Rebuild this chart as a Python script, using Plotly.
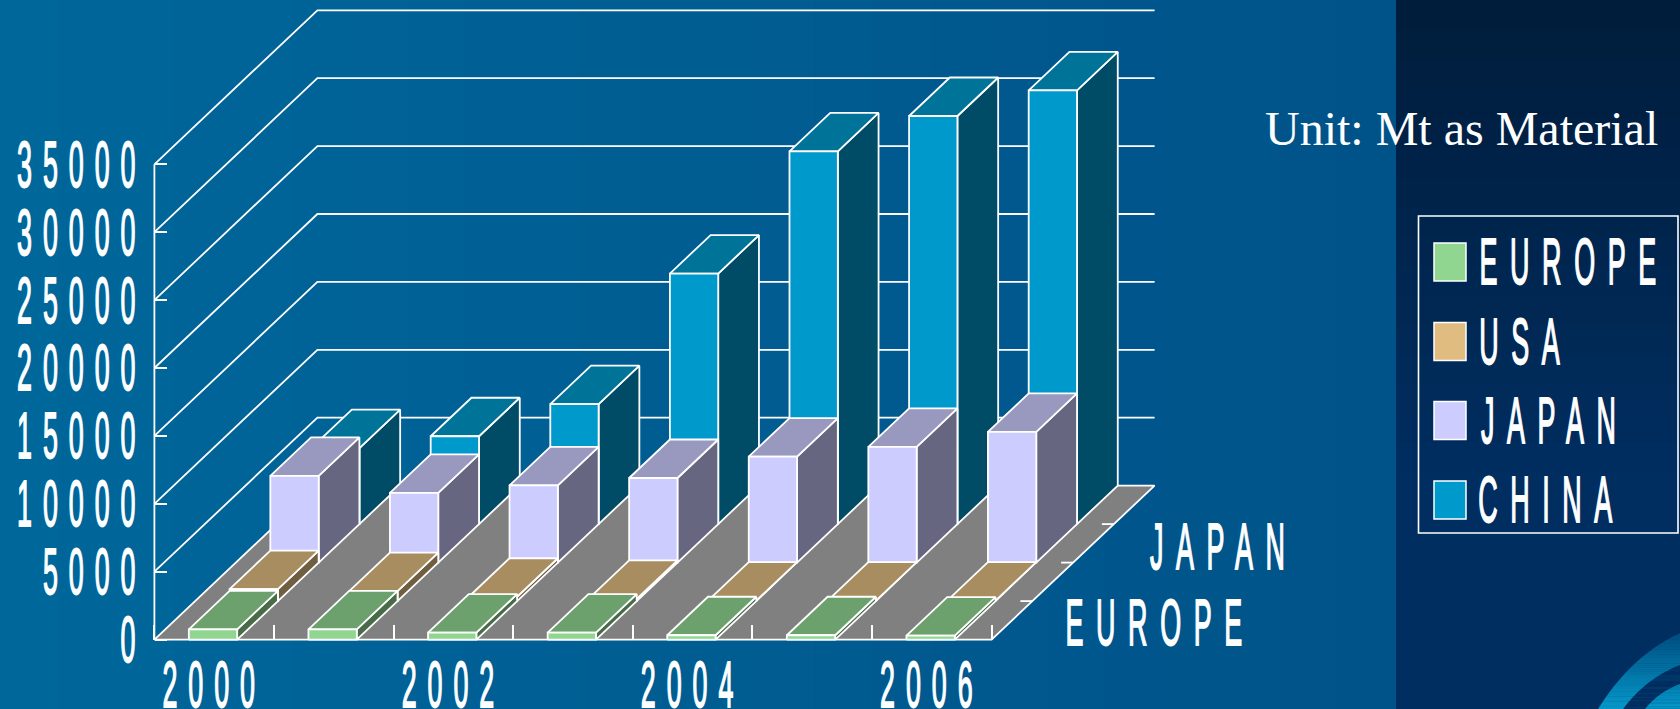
import plotly.graph_objects as go

years = [2000, 2001, 2002, 2003, 2004, 2005, 2006]
year_labels = ["2000", "2002", "2004", "2006"]
year_label_idx = [0, 2, 4, 6]
europe = [760, 760, 515, 515, 320, 320, 300]
usa = [880, 730, 320, 160, 40, 40, 40]
japan = [6390, 5130, 5680, 6230, 7810, 8520, 9620]
china = [5600, 6470, 8830, 18450, 27440, 30050, 31940]
series_names = ["EUROPE", "USA", "JAPAN", "CHINA"]
series_values = [europe, usa, japan, china]
series_colors = [(144, 214, 144), (224, 188, 128), (204, 204, 255), (0, 153, 204)]
y_ticks = [0, 5000, 10000, 15000, 20000, 25000, 30000, 35000]

W, H = 1680, 709
X0, Y0 = 154.4, 639.6          # pixel of category 0 / value 0
PX_CAT, PX_VAL = 119.6, 0.01358
DX, DY = 163 / PX_CAT, 154 / PX_VAL  # oblique depth vector in axis units
BAR_L, BAR_R = 0.288, 0.692
WHITE = "#ffffff"
LW = 1.8
SANS = "Liberation Sans"
FONT_PX = 64


def proj(c, v, d):
    return c + d * DX, v + d * DY


def shade(rgb, k):
    return "rgb(%d,%d,%d)" % tuple(round(a * k) for a in rgb)


def mix(a, b, t):
    return "rgb(%d,%d,%d)" % tuple(round(p + (q - p) * t) for p, q in zip(a, b))


def polys(items):
    xs, ys = [], []
    for poly in items:
        for c, v, d in poly:
            x, y = proj(c, v, d)
            xs.append(x)
            ys.append(y)
        x, y = proj(*poly[0])
        xs.append(x)
        ys.append(y)
        xs.append(None)
        ys.append(None)
    return xs, ys


fig = go.Figure()


def add_poly(items, fill, name):
    xs, ys = polys(items)
    fig.add_trace(go.Scatter(x=xs, y=ys, mode="lines", fill="toself", fillcolor=fill,
                             line=dict(color=WHITE, width=LW), name=name,
                             showlegend=False, hoverinfo="skip"))


# walls
n = len(years)
wall_x, wall_y = [], []
for v in y_ticks[1:]:
    for c, val, d in [(0, v, 0), (0, v, 1), (n, v, 1)]:
        x, y = proj(c, val, d)
        wall_x.append(x)
        wall_y.append(y)
    wall_x.append(None)
    wall_y.append(None)
wall_x += [0, 0]
wall_y += [0, y_ticks[-1]]
fig.add_trace(go.Scatter(x=wall_x, y=wall_y, mode="lines", line=dict(color=WHITE, width=LW),
                         showlegend=False, hoverinfo="skip"))

# floor
add_poly([[(0, 0, 0), (n, 0, 0), (n, 0, 1), (0, 0, 1)]], "#808080", "floor")

# depth ticks on the floor's right edge
tx, ty = [], []
for d in [0.25, 0.5, 0.75]:
    x, y = proj(n, 0, d)
    tx += [x - 0.1, x, None]
    ty += [y, y, None]
fig.add_trace(go.Scatter(x=tx, y=ty, mode="lines", line=dict(color=WHITE, width=LW),
                         showlegend=False, hoverinfo="skip"))

# bars, back row first
for r in range(3, -1, -1):
    vals, col, name = series_values[r], series_colors[r], series_names[r]
    d0, d1 = r / 4, (r + 1) / 4
    side, top, front = [], [], []
    for i, v in enumerate(vals):
        l, rr = i + BAR_L, i + BAR_R
        side.append([(rr, 0, d0), (rr, 0, d1), (rr, v, d1), (rr, v, d0)])
        top.append([(l, v, d0), (rr, v, d0), (rr, v, d1), (l, v, d1)])
        front.append([(l, 0, d0), (rr, 0, d0), (rr, v, d0), (l, v, d0)])
    add_poly(side, shade(col, 0.5), name + " side")
    add_poly(top, shade(col, 0.75), name + " top")
    add_poly(front, shade(col, 1.0), name)

# background gradient and right panel
shapes = []
SPLIT = 1396
STEPS = 24
for k in range(STEPS):
    shapes.append(dict(type="rect", xref="paper", yref="paper", layer="below", line_width=0,
                       x0=k / STEPS * SPLIT / W, x1=(k + 1) / STEPS * SPLIT / W + 0.001, y0=0, y1=1,
                       fillcolor=mix((0, 103, 155), (0, 83, 137), k / (STEPS - 1))))
for k in range(STEPS):
    t = k / (STEPS - 1)
    shapes.append(dict(type="rect", xref="paper", yref="paper", layer="below", line_width=0,
                       x0=SPLIT / W, x1=1, y1=1 - k / STEPS, y0=1 - (k + 1) / STEPS - 0.001,
                       fillcolor=mix((0, 29, 60), (0, 46, 97), min(1, t * 1.45))))


def px(x):
    return x / W


def py(y):
    return 1 - y / H


# corner swoosh: gradient bands made of slices against the right edge
def swoosh(x_low, y_right, c_top=None, c_bot=None, flat=None):
    cx, cy = x_low + 0.4 * (W - x_low), y_right + 0.3 * (H - y_right)
    pts = []
    for i in range(41):
        t = i / 40
        pts.append(((1 - t) ** 2 * x_low + 2 * t * (1 - t) * cx + t * t * W,
                    (1 - t) ** 2 * H + 2 * t * (1 - t) * cy + t * t * y_right))
    for (xa, ya), (xb, yb) in zip(pts[:-1], pts[1:]):
        ymid = (ya + yb) / 2
        col = flat or mix(c_top, c_bot, (ymid - 633) / (H - 633))
        shapes.append(dict(type="path", xref="paper", yref="paper", layer="below", line_width=0,
                           fillcolor=col,
                           path="M %.5f,%.5f L %.5f,%.5f L 1,%.5f L 1,%.5f Z"
                                % (px(xa), py(ya + 0.4), px(xb), py(yb), py(yb), py(ya + 0.4))))


SW_A, SW_B = (0, 78, 128), (5, 152, 202)
swoosh(1598, 633, SW_A, SW_B)
swoosh(1623, 665, flat="rgb(0,46,97)")
swoosh(1645, 684, SW_A, SW_B)

# legend box and swatches
label_font = dict(family=SANS, size=FONT_PX, color=WHITE)
shapes.append(dict(type="rect", xref="paper", yref="paper", layer="above",
                   x0=px(1418.5), x1=px(1678), y0=py(533), y1=py(216), line=dict(color=WHITE, width=1.6)))
annotations = []
SW_TOP = [243, 322.5, 401.5, 481]
LEG_CX = [1574, 1526, 1555, 1551]
for name, col, top_y, cx in zip(series_names, series_colors, SW_TOP, LEG_CX):
    shapes.append(dict(type="rect", xref="paper", yref="paper", layer="above",
                       x0=px(1434), x1=px(1466), y0=py(top_y + 38), y1=py(top_y),
                       fillcolor=shade(col, 1.0), line=dict(color=WHITE, width=1.5)))
    annotations.append(dict(text=name, xref="paper", yref="paper", x=px(cx), y=py(top_y + 19),
                            xanchor="center", yanchor="middle", showarrow=False, font=label_font))

# depth labels and unit note
annotations.append(dict(text="EUROPE", xref="paper", yref="paper", x=px(1160), y=py(623), xanchor="center",
                        yanchor="middle", showarrow=False, font=label_font))
annotations.append(dict(text="JAPAN", xref="paper", yref="paper", x=px(1224), y=py(547), xanchor="center",
                        yanchor="middle", showarrow=False, font=label_font))
annotations.append(dict(text="Unit: Mt as Material", xref="paper", yref="paper", x=px(1461), y=py(129),
                        xanchor="center", yanchor="middle", showarrow=False,
                        font=dict(family="Liberation Serif", size=48, color=WHITE)))

fig.update_layout(
    width=W, height=H, autosize=False,
    margin=dict(l=0, r=0, t=0, b=0, pad=0, autoexpand=False),
    paper_bgcolor="#00538a", plot_bgcolor="rgba(0,0,0,0)",
    showlegend=False, shapes=shapes, annotations=annotations,
    xaxis=dict(range=[-X0 / PX_CAT, (W - X0) / PX_CAT], domain=[0, 1], anchor="free",
               position=(H - Y0) / H, showgrid=False, zeroline=False, showline=False,
               automargin=False,
               tickmode="array", tickvals=[i + 0.5 for i in year_label_idx], ticktext=year_labels,
               ticks="", ticklabelstandoff=2,
               tickfont=label_font,
               minor=dict(tickmode="array", tickvals=list(range(0, n + 1)), ticks="inside",
                          ticklen=15, tickcolor=WHITE, tickwidth=LW, showgrid=False)),
    yaxis=dict(range=[-(H - Y0) / PX_VAL, Y0 / PX_VAL], domain=[0, 1], anchor="free",
               position=X0 / W, showgrid=False, zeroline=False, showline=False,
               automargin=False,
               tickmode="array", tickvals=y_ticks, ticktext=[str(v) for v in y_ticks],
               ticks="inside", ticklen=12, tickcolor=WHITE, tickwidth=LW,
               ticklabelstandoff=8,
               tickfont=label_font),
)

# the page margin is removed; no condensed face is installed, so the sans labels are
# squeezed horizontally and letter-spaced like the reference's narrow tracked type
POST = """
document.body.style.margin = '0';
var SX = 0.42;
function squeeze(t, ls) {
  var x = parseFloat(t.getAttribute('x')) || 0;
  var old = t.getAttribute('transform') || '';
  t.style.letterSpacing = ls + 'px';
  t.style.stroke = '#ffffff';
  t.style.strokeWidth = '1.8px';
  t.setAttribute('transform', old + ' translate(' + x + ',0) scale(' + SX + ',1) translate(' + (-x) + ',0)');
}
document.querySelectorAll('.xtick text, .ytick text').forEach(function (t) { squeeze(t, 26); });
document.querySelectorAll('.annotation-text').forEach(function (t) {
  if (t.textContent.indexOf('Unit') === -1) { squeeze(t, 30); }
});
"""
fig.write_html("out.html", post_script=POST, config=dict(displayModeBar=False))
